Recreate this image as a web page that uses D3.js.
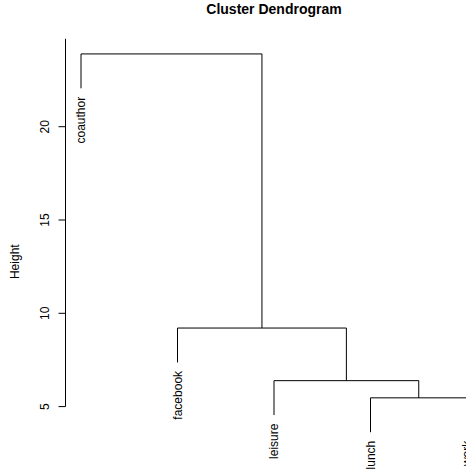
<!DOCTYPE html>
<html lang="en">
<head>
<meta charset="UTF-8">
<title>Cluster Dendrogram</title>
<script src="https://cdn.jsdelivr.net/npm/d3@7"></script>
<style>
    body { margin: 0; background: #fff; }
    svg { font-family: "Liberation Sans", Arial, sans-serif; }
    .link { fill: none; stroke: #000; stroke-width: 1px; }
</style>
</head>
<body>
<div id="chart"></div>
<script>
    // leaf labels, in the order of the original observations
    var labels = ["coauthor", "facebook", "leisure", "lunch", "work"];
    // R-style merge matrix: negative = leaf, positive = earlier merge step
    var merges = [[-4, -5], [-3, 1], [-2, 2], [-1, 3]];
    // merge heights
    var mergeHeights = [5.47, 6.39, 9.21, 23.9];
    var yTicks = [5, 10, 15, 20];

    var width = 466, height = 472;

    // hang = 10% of the height range, like plot.hclust
    var hang = 0.1 * (d3.max(mergeHeights) - d3.min(mergeHeights));

    // build the nested tree from the merge matrix
    function node(id) {
        if (id < 0) return {name: labels[-id - 1]};
        var m = merges[id - 1];
        return {height: mergeHeights[id - 1], children: [node(m[0]), node(m[1])]};
    }
    var root = d3.hierarchy(node(merges.length));
    var leaves = root.leaves();

    // scales
    var yLow = d3.min(mergeHeights) - hang;
    var yHigh = d3.max(mergeHeights);
    var pad = (yHigh - yLow) * 0.04;
    var y = d3.scaleLinear().domain([5, 20]).range([406.6, 126.7]);
    var x = d3.scaleLinear().domain([0, leaves.length - 1]).range([81, 467]);

    // positions: leaves by order, internal nodes at the middle of their children
    leaves.forEach(function(d, i) { d.px = x(i); });
    root.eachAfter(function(d) {
        if (d.children) {
            d.px = (d.children[0].px + d.children[1].px) / 2;
            d.h = d.data.height;
        }
    });
    leaves.forEach(function(d) { d.h = d.parent.data.height - hang; });

    var svg = d3.select("#chart").append("svg")
        .attr("width", width)
        .attr("height", height);

    // title
    svg.append("text")
        .attr("x", 274)
        .attr("y", 14)
        .attr("text-anchor", "middle")
        .style("font-size", "14px")
        .style("font-weight", "bold")
        .text("Cluster Dendrogram");

    // branches
    var paths = [];
    root.descendants().forEach(function(d) {
        if (!d.children) return;
        var a = d.children[0], b = d.children[1];
        paths.push("M" + a.px + "," + y(a.h) + "V" + y(d.h) + "H" + b.px + "V" + y(b.h));
    });
    svg.selectAll("path.link")
        .data(paths)
        .enter().append("path")
        .attr("class", "link")
        .attr("d", function(d) { return d; });

    // leaf labels
    svg.selectAll("text.leaf")
        .data(leaves)
        .enter().append("text")
        .attr("class", "leaf")
        .attr("transform", function(d) {
            return "translate(" + d.px + "," + (y(d.h) + 8.5) + ") rotate(-90)";
        })
        .attr("dy", "0.35em")
        .attr("text-anchor", "end")
        .style("font-size", "12px")
        .text(function(d) { return d.data.name; });

    // y axis
    var gy = svg.append("g")
        .attr("transform", "translate(65.5,0)")
        .call(d3.axisLeft(y).tickValues(yTicks).tickSize(7).tickSizeOuter(0).tickFormat(d3.format("d")));
    gy.select(".domain")
        .attr("d", "M0," + y(5) + "V" + y(yHigh + pad));
    gy.selectAll("line").attr("stroke", "#000");
    gy.selectAll("text")
        .attr("transform", function(d) { return "rotate(-90)"; })
        .attr("x", function(d) { return -y(d); })
        .attr("y", -17)
        .attr("dy", "0")
        .attr("text-anchor", "middle")
        .style("font-size", "12px")
        .style("font-family", "Liberation Sans, Arial, sans-serif")
        .attr("fill", "#000");
    gy.selectAll(".tick").attr("transform", null);
    gy.selectAll(".tick line")
        .attr("y1", function(d) { return y(d); })
        .attr("y2", function(d) { return y(d); });

    // y axis title
    svg.append("text")
        .attr("transform", "translate(18.5," + 261.7 + ") rotate(-90)")
        .attr("text-anchor", "middle")
        .style("font-size", "12px")
        .text("Height");
</script>
</body>
</html>
